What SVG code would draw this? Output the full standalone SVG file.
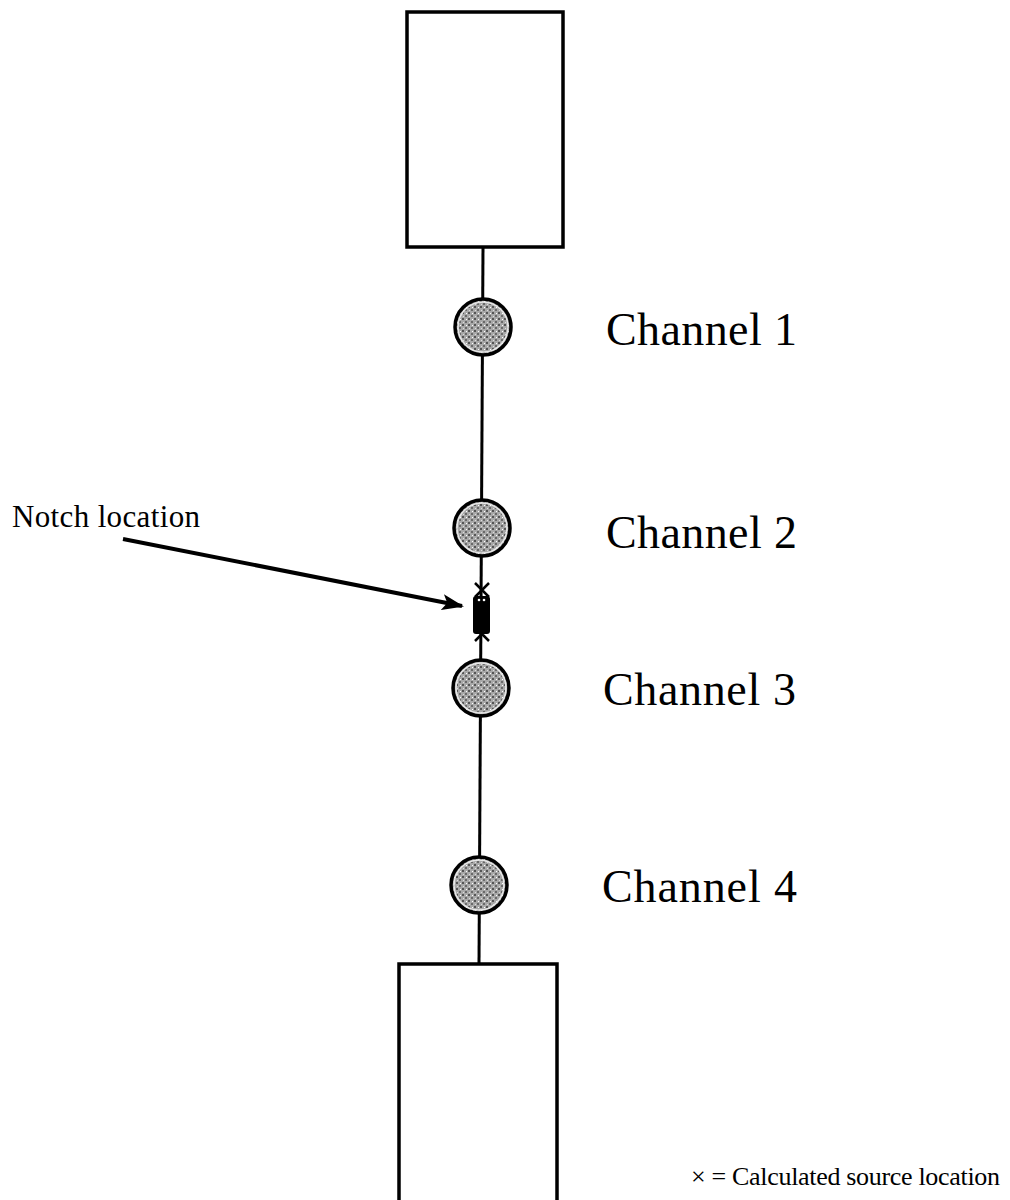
<svg xmlns="http://www.w3.org/2000/svg" width="1010" height="1200" viewBox="0 0 1010 1200">
<style>
.box{fill:#fff;stroke:#000;stroke-width:3.5}
.ch{fill:#9c9c9c;stroke:#000;stroke-width:3.5}
.inner{fill:none;stroke:#e8e8e8;stroke-width:1.5}
.lbl{font-family:"Liberation Serif","Times New Roman",serif;fill:#000}
.wire{stroke:#000;stroke-width:3;fill:none}
</style>
<defs>
<marker id="ah" markerWidth="22" markerHeight="16" refX="20" refY="8" orient="auto" markerUnits="userSpaceOnUse" viewBox="0 0 22 16">
<path d="M0,0 L22,8 L0,16 L5,8 Z" fill="#000"/>
</marker>
<pattern id="stip" width="6" height="6" patternUnits="userSpaceOnUse">
<rect width="6" height="6" fill="#a8a8a8"/>
<rect x="0" y="0" width="2" height="2" fill="#555"/>
<rect x="3" y="3" width="2" height="2" fill="#6a6a6a"/>
<rect x="4" y="1" width="1" height="1" fill="#fff"/>
<rect x="1" y="4" width="1" height="1" fill="#ddd"/>
</pattern>
</defs>
<g id="connectors">
<line class="wire" x1="483" y1="248" x2="479" y2="963"/>
<line x1="123" y1="539" x2="462" y2="606" stroke="#000" stroke-width="4" marker-end="url(#ah)"/>
</g>
<g id="top-box"><rect class="box" x="407" y="12" width="156" height="235"/></g>
<g id="bottom-box"><rect class="box" x="399" y="964" width="158" height="240"/></g>
<g id="channel1">
<circle class="ch" cx="483" cy="327" r="28" style="fill:url(#stip)"/>
<circle class="inner" cx="483" cy="327" r="25"/>
<text class="lbl" x="606" y="345" font-size="46" textLength="191">Channel 1</text>
</g>
<g id="channel2">
<circle class="ch" cx="482" cy="528" r="28" style="fill:url(#stip)"/>
<circle class="inner" cx="482" cy="528" r="25"/>
<text class="lbl" x="606" y="548" font-size="46" textLength="191">Channel 2</text>
</g>
<g id="notch">
<rect x="473" y="596" width="17" height="38" rx="3" fill="#000"/>
<path d="M475,583 L489,597 M489,583 L475,597" stroke="#000" stroke-width="2.5"/>
<path d="M475,627 L489,641 M489,627 L475,641" stroke="#000" stroke-width="2.5"/>
<circle cx="479" cy="600" r="1.3" fill="#fff"/>
<circle cx="484" cy="600" r="1.3" fill="#fff"/>
<text class="lbl" x="12" y="527" font-size="31" textLength="188">Notch location</text>
</g>
<g id="channel3">
<circle class="ch" cx="481" cy="688" r="28" style="fill:url(#stip)"/>
<circle class="inner" cx="481" cy="688" r="25"/>
<text class="lbl" x="603" y="705" font-size="46" textLength="193">Channel 3</text>
</g>
<g id="channel4">
<circle class="ch" cx="479" cy="885" r="28" style="fill:url(#stip)"/>
<circle class="inner" cx="479" cy="885" r="25"/>
<text class="lbl" x="602" y="902" font-size="46" textLength="195">Channel 4</text>
</g>
<g id="legend">
<text class="lbl" x="691" y="1185" font-size="26" textLength="309">× = Calculated source location</text>
</g>
</svg>
